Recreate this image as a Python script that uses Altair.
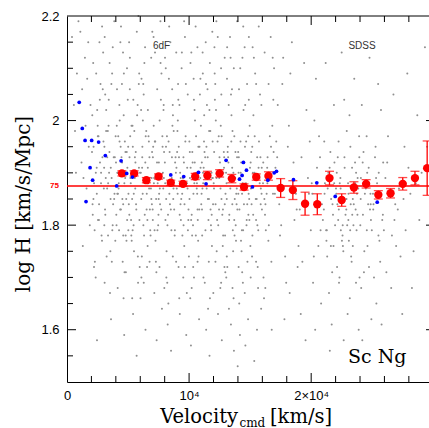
import json
import altair as alt
import pandas as pd

# ---------------- data ----------------
# binned mean log H (red) with error half-widths
red_v = [4500, 5500, 6500, 7500, 8500, 9500, 10500, 11500, 12500, 13500, 14500, 15500, 16500,
         17500, 18500, 19500, 20500, 21500, 22500, 23500, 24500, 25500, 26500, 27500, 28500, 29500]
red_logh = [1.899, 1.899, 1.886, 1.893, 1.881, 1.879, 1.893, 1.895, 1.899, 1.889, 1.873, 1.892, 1.894,
            1.871, 1.867, 1.841, 1.840, 1.890, 1.848, 1.872, 1.879, 1.858, 1.861, 1.879, 1.890, 1.909]
red_err = [0.005, 0.005, 0.005, 0.005, 0.005, 0.005, 0.006, 0.008, 0.007, 0.008, 0.006, 0.006, 0.008,
           0.018, 0.018, 0.022, 0.020, 0.013, 0.012, 0.011, 0.008, 0.008, 0.009, 0.012, 0.013, 0.052]

# individual nearby galaxies (blue)
blue_v = [1000, 1250, 1480, 2020, 2590, 3140, 1890, 2100, 1560, 4070, 4430, 4890, 5360, 8500, 9560,
          10770, 11390, 13030, 14450, 14700, 14340, 14130, 15190, 16450, 16970, 17160, 18550, 20460,
          21970, 25410]
blue_logh = [2.035, 1.985, 1.962, 1.962, 1.959, 1.933, 1.910, 1.886, 1.845, 1.875, 1.923, 1.899, 1.892,
             1.896, 1.893, 1.901, 1.879, 1.924, 1.920, 1.905, 1.895, 1.888, 1.873, 1.886, 1.900, 1.903,
             1.887, 1.881, 1.855, 1.844]

# grey background galaxies (velocity km/s, log H), estimated by eye, bin by bin
cloud_points = [
    (410, 2.16), (655, 1.98), (812, 2.09), (733, 1.90), (938, 2.19), (561, 2.03),
    (1093, 2.17), (1241, 2.06), (1188, 1.92), (1467, 2.12), (1519, 1.99), (1602, 1.87), (1738, 2.15),
    (1781, 1.95), (1866, 1.80), (1923, 2.03), (1349, 1.89), (1297, 1.76), (1655, 2.08),
    (2047, 1.94), (2391, 2.09), (2166, 1.85), (2512, 1.99), (2284, 1.73), (2961, 2.13), (2433, 1.91),
    (2107, 1.82), (2688, 2.04), (2579, 1.97), (2830, 1.78), (2219, 1.88), (2745, 2.07), (2903, 1.93),
    (2348, 1.70), (2627, 1.84), (2071, 2.01), (2456, 1.58), (2791, 1.90), (2874, 2.18), (2539, 1.81),
    (2985, 1.96),
    (3018, 1.87), (3345, 1.98), (3712, 1.79), (3129, 2.05), (3586, 1.91), (3247, 1.74), (3863, 1.85),
    (3491, 2.11), (3064, 1.95), (3778, 1.84), (3402, 1.99), (3955, 1.77), (3173, 1.89), (3633, 2.07),
    (3296, 1.93), (3524, 1.67), (3890, 1.86), (3211, 2.02), (3447, 1.90), (3057, 1.80), (3745, 2.14),
    (3368, 1.88), (3981, 1.97), (3606, 1.62), (3139, 1.82), (3825, 1.93), (3553, 1.75),
    (4012, 1.92), (4533, 1.85), (4288, 2.03), (4871, 1.77), (4145, 1.90), (4659, 2.09), (4394, 1.95),
    (4927, 1.81), (4076, 1.99), (4712, 1.71), (4241, 1.88), (4588, 2.13), (4463, 1.93), (4805, 1.78),
    (4119, 1.86), (4977, 2.04), (4352, 1.83), (4631, 1.66), (4198, 1.97), (4766, 1.89), (4421, 2.18),
    (4037, 1.82), (4894, 1.94), (4560, 1.73), (4317, 2.00), (4684, 1.59), (4172, 1.86), (4945, 1.91),
    (4499, 2.07), (4265, 1.79), (4738, 1.96), (4601, 1.84),
    (5034, 1.86), (5512, 1.98), (5267, 1.78), (5891, 1.91), (5143, 2.06), (5678, 1.83), (5389, 1.95),
    (5956, 1.72), (5221, 1.88), (5745, 2.01), (5453, 1.80), (5087, 2.15), (5604, 1.92), (5332, 1.85),
    (5819, 1.69), (5176, 1.97), (5547, 1.89), (5913, 2.09), (5298, 1.77), (5631, 1.94), (5062, 1.84),
    (5784, 2.03), (5411, 1.63), (5972, 1.90), (5245, 1.81), (5703, 1.55), (5119, 1.93), (5486, 1.75),
    (5852, 2.20), (5367, 1.99), (5589, 1.87), (5023, 1.79),
    (6047, 1.90), (6581, 1.81), (6213, 2.00), (6874, 1.87), (6129, 1.74), (6706, 1.96), (6338, 2.11),
    (6952, 1.84), (6412, 1.92), (6093, 1.70), (6645, 1.88), (6279, 2.05), (6817, 1.79), (6174, 1.95),
    (6533, 1.86), (6988, 2.17), (6366, 1.82), (6752, 1.93), (6021, 1.66), (6489, 1.98), (6907, 1.85),
    (6245, 2.07), (6604, 1.76), (6151, 1.91), (6788, 1.83), (6431, 1.60), (6069, 2.02), (6929, 1.89),
    (6312, 1.78), (6677, 1.97), (6556, 1.72), (6198, 1.86),
    (7058, 1.95), (7623, 1.84), (7281, 1.73), (7904, 2.02), (7136, 1.89), (7467, 1.80), (7812, 1.97),
    (7209, 2.13), (7545, 1.86), (7973, 1.68), (7374, 1.92), (7016, 1.83), (7689, 2.04), (7248, 1.77),
    (7851, 1.90), (7102, 1.99), (7512, 1.85), (7736, 2.09), (7319, 1.71), (7948, 1.94), (7427, 1.88),
    (7171, 1.79), (7588, 2.00), (7883, 1.87), (7343, 1.58), (7654, 2.19), (7034, 1.93), (7776, 1.64),
    (7491, 1.82), (7228, 1.96),
    (8041, 1.88), (8613, 2.06), (8274, 1.82), (8892, 1.93), (8157, 1.75), (8738, 1.98), (8386, 1.86),
    (8029, 2.12), (8551, 1.79), (8964, 1.91), (8212, 1.69), (8677, 2.01), (8433, 1.84), (8108, 1.95),
    (8819, 1.78), (8345, 2.08), (8582, 1.89), (8937, 1.73), (8186, 1.97), (8701, 1.85), (8469, 2.15),
    (8063, 1.81), (8854, 1.92), (8302, 1.65), (8635, 1.99), (8521, 1.56), (8991, 1.87), (8247, 1.61),
    (8779, 1.83), (8404, 1.94),
    (9022, 1.94), (9546, 1.80), (9211, 2.03), (9873, 1.87), (9138, 1.72), (9692, 1.96), (9387, 2.10),
    (9951, 1.83), (9264, 1.90), (9605, 1.76), (9078, 2.00), (9434, 1.86), (9812, 1.67), (9171, 1.93),
    (9738, 2.07), (9329, 1.81), (9489, 1.89), (9985, 1.74), (9047, 1.98), (9661, 2.16), (9295, 1.84),
    (9577, 1.92), (9903, 1.79), (9116, 2.04), (9413, 1.88), (9766, 1.59), (9242, 1.63), (9523, 1.70),
    (9845, 1.91), (9358, 1.85),
    (10036, 1.85), (10571, 1.97), (10248, 1.78), (10889, 2.05), (10127, 1.91), (10693, 1.83),
    (10402, 1.70), (10964, 1.99), (10183, 2.13), (10627, 1.87), (10318, 1.80), (10059, 1.94),
    (10776, 1.74), (10447, 2.02), (10912, 1.89), (10215, 1.82), (10534, 2.18), (10851, 1.95),
    (10094, 1.66), (10663, 1.86), (10371, 2.08), (10742, 1.77), (10289, 1.92), (10998, 1.84),
    (10486, 2.00), (10152, 1.57), (10819, 1.62), (10599, 1.90), (10337, 1.72), (10023, 1.96),
    (10712, 1.81), (10428, 1.88),
    (11043, 1.92), (11586, 1.81), (11237, 2.01), (11871, 1.76), (11154, 1.88), (11702, 2.11),
    (11419, 1.95), (11963, 1.84), (11285, 1.69), (11641, 1.98), (11092, 1.87), (11508, 2.06),
    (11817, 1.79), (11193, 1.91), (11758, 1.83), (11362, 2.15), (11614, 1.73), (11927, 1.96),
    (11021, 1.86), (11463, 2.03), (11789, 1.80), (11316, 1.93), (11552, 1.64), (11888, 1.89),
    (11125, 2.09), (11674, 1.55), (11398, 1.60), (11985, 1.67), (11261, 1.94), (11537, 1.85),
    (11843, 1.90), (11071, 1.78),
    (12038, 1.87), (12594, 1.99), (12261, 1.75), (12877, 1.93), (12142, 2.07), (12719, 1.82),
    (12403, 1.90), (12965, 1.71), (12206, 2.02), (12652, 1.85), (12334, 1.96), (12077, 2.14),
    (12789, 1.78), (12471, 1.89), (12921, 1.84), (12188, 2.00), (12556, 1.68), (12843, 1.94),
    (12295, 1.81), (12618, 2.10), (12014, 1.88), (12758, 1.76), (12427, 1.97), (12983, 1.86),
    (12113, 2.04), (12682, 1.58), (12369, 1.63), (12531, 1.92), (12896, 1.72), (12233, 2.19),
    (12807, 1.90), (12455, 1.83),
    (13027, 1.90), (13583, 1.79), (13246, 2.03), (13862, 1.86), (13131, 1.72), (13704, 1.97),
    (13397, 2.12), (13955, 1.83), (13219, 1.92), (13645, 1.66), (13068, 1.88), (13512, 2.06),
    (13816, 1.80), (13174, 1.95), (13738, 1.85), (13351, 2.16), (13609, 1.75), (13927, 1.93),
    (13294, 1.82), (13471, 2.01), (13781, 1.89), (13045, 1.70), (13556, 1.98), (13889, 1.84),
    (13103, 2.08), (13672, 1.56), (13428, 1.61), (13979, 1.53), (13262, 1.64), (13529, 1.91),
    (13843, 1.77), (13156, 1.94), (13377, 1.87), (13701, 1.81),
    (14033, 1.86), (14577, 1.95), (14252, 1.77), (14894, 2.04), (14138, 1.89), (14719, 1.81),
    (14406, 1.69), (14962, 1.99), (14191, 2.10), (14638, 1.87), (14322, 1.79), (14074, 1.93),
    (14781, 1.73), (14459, 2.02), (14923, 1.85), (14227, 1.90), (14548, 2.14), (14857, 1.82),
    (14106, 1.65), (14673, 1.96), (14381, 1.88), (14746, 2.07), (14297, 1.75), (14989, 1.91),
    (14494, 1.84), (14163, 1.59), (14829, 1.62), (14612, 1.57), (14347, 1.71), (14019, 1.94),
    (14702, 1.80), (14435, 2.18), (14876, 1.86), (14265, 1.92),
    (15042, 1.92), (15593, 1.80), (15268, 2.01), (15876, 1.87), (15157, 1.74), (15724, 1.96),
    (15411, 2.09), (15967, 1.83), (15225, 1.90), (15651, 1.68), (15089, 1.94), (15537, 1.85),
    (15809, 2.05), (15186, 1.78), (15762, 1.89), (15373, 1.97), (15618, 1.72), (15934, 1.86),
    (15307, 2.12), (15486, 1.81), (15843, 1.93), (15021, 1.76), (15562, 1.60), (15902, 1.64),
    (15339, 1.54), (15689, 1.91), (15118, 1.84),
    (16052, 1.88), (16613, 1.97), (16284, 1.79), (16897, 2.04), (16166, 1.85), (16741, 1.73),
    (16429, 1.93), (16958, 2.10), (16217, 1.82), (16572, 1.90), (16095, 1.70), (16816, 1.99),
    (16351, 1.86), (16684, 2.16), (16493, 1.77), (16925, 1.94), (16138, 1.66), (16768, 1.60),
    (16396, 1.91),
    (17071, 1.91), (17542, 1.80), (17263, 2.03), (17868, 1.74), (17139, 1.96), (17705, 2.12),
    (17386, 1.84), (17951, 1.69), (17214, 1.93), (17637, 2.07), (17448, 1.78), (17809, 1.62),
    (17028, 1.86),
    (18087, 1.95), (18631, 1.81), (18295, 2.09), (18892, 1.72), (18174, 1.99), (18746, 1.86),
    (18418, 2.15), (18963, 1.76), (18239, 1.67), (18553, 1.92), (18814, 1.83),
    (19064, 1.83), (19612, 2.02), (19277, 1.73), (19885, 1.96), (19148, 1.63), (19734, 1.89),
    (19421, 2.11), (19968, 1.79), (19206, 1.93), (19539, 1.58), (19817, 1.86),
    (20046, 1.88), (20587, 1.76), (20263, 2.00), (20879, 1.84), (20152, 1.69), (20724, 1.93),
    (20391, 2.08), (20956, 1.81), (20218, 1.74), (20643, 1.97), (20094, 1.86), (20812, 1.65),
    (20475, 1.91), (20327, 1.60), (20768, 1.79),
    (21038, 1.83), (21574, 1.94), (21249, 1.77), (21863, 2.03), (21126, 1.88), (21718, 1.71),
    (21403, 1.90), (21957, 1.80), (21187, 2.11), (21632, 1.85), (21311, 1.74), (21069, 1.96),
    (21786, 1.82), (21458, 1.67), (21905, 1.92), (21224, 1.79), (21681, 1.61), (21527, 1.56),
    (21352, 1.87), (21829, 1.76),
    (22031, 1.87), (22568, 1.78), (22245, 1.96), (22876, 1.83), (22119, 1.72), (22703, 2.04),
    (22389, 1.89), (22951, 1.80), (22176, 1.93), (22634, 1.75), (22062, 1.86), (22497, 2.13),
    (22812, 1.82), (22281, 1.69), (22741, 1.91), (22428, 1.79), (22914, 1.98), (22147, 1.84),
    (22596, 1.76), (22338, 1.88), (22985, 1.63), (22662, 1.58), (22213, 1.81), (22459, 1.85),
    (23044, 1.81), (23593, 1.92), (23272, 1.74), (23858, 1.87), (23137, 2.01), (23716, 1.79),
    (23409, 1.85), (23961, 1.70), (23208, 1.95), (23641, 1.83), (23086, 1.77), (23527, 2.08),
    (23804, 1.89), (23315, 1.73), (23752, 1.86), (23461, 1.80), (23926, 1.97), (23163, 1.66),
    (23678, 1.90), (23366, 1.82), (23889, 1.60), (23562, 1.55), (23021, 1.88), (23238, 1.84),
    (24053, 1.85), (24612, 1.76), (24287, 1.94), (24893, 1.81), (24148, 2.03), (24735, 1.72),
    (24413, 1.88), (24966, 1.79), (24219, 1.92), (24664, 1.84), (24097, 1.68), (24541, 1.97),
    (24818, 1.83), (24352, 1.75), (24779, 2.12), (24476, 1.87), (24931, 1.62), (24186, 1.58),
    (24587, 1.90), (24321, 1.71), (24024, 1.80), (24852, 1.86),
    (25061, 1.86), (25589, 1.77), (25274, 1.95), (25871, 1.82), (25143, 1.70), (25716, 2.02),
    (25398, 1.88), (25954, 1.79), (25227, 1.93), (25652, 1.73), (25106, 1.84), (25483, 2.07),
    (25819, 1.81), (25341, 1.65), (25767, 1.61), (25532, 1.90),
    (26078, 1.89), (26614, 1.78), (26293, 1.97), (26886, 1.84), (26161, 1.71), (26738, 2.05),
    (26432, 1.86), (26959, 1.76), (26227, 1.92), (26553, 1.68), (26817, 1.81),
    (27093, 1.83), (27641, 1.95), (27318, 1.74), (27872, 2.09), (27189, 1.87), (27736, 1.79),
    (27457, 1.63), (27965, 1.91), (27562, 1.85),
    (28124, 1.86), (28692, 2.01), (28387, 1.75), (29046, 1.90), (28251, 1.68), (29318, 2.14),
    (28855, 1.81), (29497, 1.95), (28563, 1.88),
]

# the denser core of the grey cloud (1.76 < log H < 2.0)
cloud_core = [
    (2093, 1.84), (2177, 1.95), (2262, 1.79), (2358, 1.90), (2441, 1.86), (2523, 1.97), (2617, 1.81),
    (2702, 1.92), (2786, 1.88), (2869, 1.77),
    (3041, 1.91), (3115, 1.83), (3203, 1.98), (3288, 1.87), (3362, 1.78), (3477, 1.94), (3569, 1.85),
    (3653, 1.89), (3741, 1.80), (3917, 1.93),
    (4056, 1.80), (4131, 1.90), (4229, 1.87), (4303, 1.96), (4417, 1.83), (4512, 1.92), (4606, 1.78),
    (4697, 1.88), (4788, 1.94), (4852, 1.85),
    (5011, 1.95), (5106, 1.82), (5192, 1.89), (5283, 1.99), (5376, 1.79), (5469, 1.86), (5561, 1.93),
    (5655, 1.84), (5767, 1.90), (5931, 1.81),
    (6082, 1.85), (6164, 1.93), (6258, 1.80), (6349, 1.89), (6447, 1.97), (6521, 1.83), (6619, 1.91),
    (6724, 1.87), (6845, 1.78), (6968, 1.94),
    (7027, 1.81), (7118, 1.88), (7194, 1.96), (7302, 1.85), (7409, 1.79), (7526, 1.92), (7604, 1.87),
    (7717, 1.83), (7829, 1.95), (7936, 1.89),
    (8016, 1.92), (8123, 1.85), (8229, 1.80), (8318, 1.96), (8417, 1.88), (8503, 1.83), (8596, 1.93),
    (8722, 1.87), (8836, 1.79), (8918, 1.90),
    (9061, 1.86), (9154, 1.95), (9228, 1.82), (9312, 1.89), (9451, 1.78), (9538, 1.93), (9624, 1.84),
    (9717, 1.97), (9828, 1.88), (9937, 1.81),
    (10071, 1.89), (10166, 1.81), (10263, 1.94), (10355, 1.86), (10463, 1.92), (10552, 1.78),
    (10645, 1.88), (10759, 1.95), (10834, 1.83), (10941, 1.91),
    (11058, 1.83), (11137, 1.90), (11221, 1.96), (11339, 1.79), (11442, 1.87), (11523, 1.93),
    (11628, 1.85), (11736, 1.98), (11852, 1.82), (11945, 1.89),
    (12051, 1.94), (12168, 1.84), (12247, 1.89), (12387, 1.80), (12489, 1.93), (12572, 1.87),
    (12667, 1.97), (12773, 1.83), (12861, 1.91), (12947, 1.78),
    (13085, 1.85), (13197, 1.93), (13278, 1.81), (13364, 1.89), (13457, 1.96), (13541, 1.84),
    (13627, 1.90), (13722, 1.78), (13797, 1.94), (13906, 1.87),
    (14052, 1.90), (14124, 1.83), (14211, 1.96), (14338, 1.86), (14426, 1.79), (14523, 1.92),
    (14657, 1.88), (14763, 1.84), (14841, 1.97), (14937, 1.81),
    (15067, 1.87), (15174, 1.95), (15249, 1.82), (15356, 1.90), (15462, 1.85), (15575, 1.93),
    (15667, 1.79), (15781, 1.88), (15862, 1.84), (15951, 1.91),
    (16073, 1.92), (16252, 1.84), (16414, 1.88), (16531, 1.80), (16709, 1.95), (16873, 1.86),
    (21095, 1.86), (21283, 1.79), (21509, 1.91), (21744, 1.84), (21886, 1.88), (21612, 1.76),
    (22094, 1.90), (22263, 1.83), (22411, 1.87), (22583, 1.80), (22725, 1.93), (22894, 1.85),
    (22518, 1.77),
    (23058, 1.86), (23194, 1.79), (23347, 1.91), (23489, 1.84), (23613, 1.88), (23787, 1.82),
    (23943, 1.93), (23412, 1.76),
    (24072, 1.89), (24238, 1.82), (24396, 1.86), (24557, 1.79), (24709, 1.91), (24873, 1.84),
    (25084, 1.83), (25312, 1.89), (25508, 1.78), (25683, 1.86), (25897, 1.92),
]

# upper part (2.0 - 2.2) and lower shoulder (1.66 - 1.74) of the 6dF cloud
cloud_upper = [
    (2144, 2.11), (2473, 2.02), (2658, 2.15), (2927, 2.06), (3088, 2.16), (3419, 2.04), (3695, 2.09),
    (3872, 2.19), (4097, 2.06), (4373, 2.15), (4644, 2.01), (4913, 2.10), (5152, 2.12), (5431, 2.04),
    (5718, 2.17), (5884, 2.07), (6104, 2.08), (6393, 2.14), (6625, 2.02), (6897, 2.12), (7089, 2.16),
    (7387, 2.06), (7662, 2.11), (7918, 2.03), (8089, 2.10), (8368, 2.18), (8661, 2.03), (8947, 2.13),
    (9098, 2.07), (9407, 2.13), (9592, 2.19), (9891, 2.05), (10113, 2.11), (10394, 2.04),
    (10682, 2.14), (10927, 2.08), (11109, 2.13), (11386, 2.07), (11669, 2.02), (11902, 2.17),
    (12095, 2.09), (12349, 2.16), (12641, 2.05), (12918, 2.12), (13117, 2.14), (13432, 2.05),
    (13665, 2.10), (13936, 2.19), (14086, 2.06), (14369, 2.12), (14597, 2.03), (14898, 2.16),
    (15203, 2.14), (15489, 2.07), (15706, 2.18), (15923, 2.03), (16187, 2.13), (16512, 2.07),
    (16849, 2.12),
]
cloud_lower = [
    (2210, 1.72), (3083, 1.69), (3671, 1.73), (4152, 1.68), (4823, 1.71), (5339, 1.66), (5804, 1.74),
    (6287, 1.69), (6764, 1.73), (7152, 1.67), (7578, 1.72), (8136, 1.70), (8668, 1.74), (9192, 1.66),
    (9661, 1.72), (10212, 1.68), (10694, 1.73), (11176, 1.70), (11709, 1.66), (12159, 1.73),
    (12624, 1.69), (13088, 1.74), (13556, 1.68), (14056, 1.72), (14559, 1.67), (15046, 1.70),
    (15487, 1.73), (16241, 1.68), (22318, 1.70), (23671, 1.69),
]

h0_logh = [1.875]          # log10(75)
h0_label = ["75"]

x_tick_values = [0, 10000, 20000]
x_tick_labels = ["0", "10⁴", "2×10⁴"]
y_tick_values = [1.6, 1.8, 2.0, 2.2]
x_minor = [2000, 4000, 6000, 8000, 12000, 14000, 16000, 18000, 22000, 24000, 26000, 28000]
x_major = [10000, 20000]
y_minor = [1.55, 1.65, 1.7, 1.75, 1.85, 1.9, 1.95, 2.05, 2.1, 2.15]
y_major = [1.6, 1.8, 2.0]

# ---------------- layout ----------------
W, H = 362, 366
xs = alt.Scale(domain=[0, 29650], nice=False, zero=False)
ys = alt.Scale(domain=[1.5, 2.2], nice=False, zero=False)

x_label_expr = "{}[indexof({}, datum.value)]".format(
    json.dumps(x_tick_labels, ensure_ascii=False), json.dumps(x_tick_values))

x_axis = alt.Axis(values=x_tick_values, labelExpr=x_label_expr, ticks=False, grid=False,
                  domainColor="black", domainWidth=1, labelFont="Liberation Sans",
                  labelFontSize=13, labelColor="black", labelPadding=7, labelFlush=False,
                  labelOverlap=False, title=None)
y_axis = alt.Axis(values=y_tick_values, labelExpr="format(datum.value, '~g')", ticks=False,
                  grid=False, domainColor="black", domainWidth=1, labelFont="Liberation Sans",
                  labelFontSize=13, labelColor="black", labelPadding=8, labelFlush=False,
                  labelOverlap=False, title=None)

cloud = pd.DataFrame(cloud_points + cloud_core + cloud_upper + cloud_lower, columns=["v", "lh"])
red = pd.DataFrame({"v": red_v, "lh": red_logh, "err": red_err})
red["lo"] = red["lh"] - red["err"]
red["hi"] = red["lh"] + red["err"]
blue = pd.DataFrame({"v": blue_v, "lh": blue_logh})
h0 = pd.DataFrame({"lh": h0_logh, "t": h0_label})


def X(f="v:Q"):
    return alt.X(f, scale=xs, axis=x_axis)


def Y(f="lh:Q"):
    return alt.Y(f, scale=ys, axis=y_axis)


cloud_layer = alt.Chart(cloud).mark_circle(size=4, color="#8f8f8f", opacity=1).encode(x=X(), y=Y())

h0_line = alt.Chart(h0).mark_rule(color="#ff0000", strokeWidth=1.5).encode(y=Y())
h0_text = alt.Chart(h0).mark_text(color="#ff0000", fontSize=8, fontWeight="bold", align="right",
                                  baseline="middle", font="Liberation Sans").encode(
    y=Y(), x=alt.value(-8), text="t:N")

err_rule = alt.Chart(red).mark_rule(color="#ff0000", strokeWidth=1.3).encode(
    x=X(), y=Y("lo:Q"), y2="hi:Q")
cap_lo = alt.Chart(red).mark_tick(color="#ff0000", thickness=1.3, size=9, orient="horizontal").encode(
    x=X(), y=Y("lo:Q"))
cap_hi = alt.Chart(red).mark_tick(color="#ff0000", thickness=1.3, size=9, orient="horizontal").encode(
    x=X(), y=Y("hi:Q"))
red_pts = alt.Chart(red).mark_circle(size=70, color="#ff0000", opacity=1).encode(x=X(), y=Y())
blue_pts = alt.Chart(blue).mark_circle(size=14, color="#0000ff", opacity=1).encode(x=X(), y=Y())

# inward ticks and top frame line
xmin_df = pd.DataFrame({"v": x_minor})
xmaj_df = pd.DataFrame({"v": x_major})
ymin_df = pd.DataFrame({"lh": y_minor})
ymaj_df = pd.DataFrame({"lh": y_major})
tick_style = dict(color="black", strokeWidth=1)
ticks = [
    alt.Chart(xmin_df).mark_rule(**tick_style).encode(x=X(), y=alt.value(H), y2=alt.value(H - 6)),
    alt.Chart(xmaj_df).mark_rule(**tick_style).encode(x=X(), y=alt.value(H), y2=alt.value(H - 9)),
    alt.Chart(xmin_df).mark_rule(**tick_style).encode(x=X(), y=alt.value(0), y2=alt.value(6)),
    alt.Chart(xmaj_df).mark_rule(**tick_style).encode(x=X(), y=alt.value(0), y2=alt.value(9)),
    alt.Chart(ymin_df).mark_rule(**tick_style).encode(y=Y(), x=alt.value(0), x2=alt.value(6)),
    alt.Chart(ymaj_df).mark_rule(**tick_style).encode(y=Y(), x=alt.value(0), x2=alt.value(9)),
    alt.Chart(ymaj_df).mark_rule(**tick_style).encode(y=Y(), x=alt.value(W - 3), x2=alt.value(W)),
    alt.Chart(pd.DataFrame({"a": [0]})).mark_rule(**tick_style).encode(
        x=alt.value(0), x2=alt.value(W), y=alt.value(0)),
]


def label(txt, x, y, size, font, align="left", baseline="alphabetic", color="black", angle=0):
    kw = dict(fontSize=size, font=font, align=align, baseline=baseline, color=color)
    if angle:
        kw["angle"] = angle
    return alt.Chart(pd.DataFrame({"t": [txt]})).mark_text(**kw).encode(
        x=alt.value(x), y=alt.value(y), text="t:N")


texts = [
    label("6dF", 94.5, 29.7, 10, "Liberation Sans", align="center", baseline="middle", color="#333333"),
    label("SDSS", 295, 29.5, 10, "Liberation Sans", align="center", baseline="middle", color="#333333"),
    label("Sc Ng", 281, 347, 19, "DejaVu Serif"),
    label("Velocity", 171, 406.5, 19.5, "DejaVu Serif", align="right"),
    label("cmd", 172.5, 410.5, 12, "DejaVu Serif"),
    label("[km/s]", 203, 406.5, 19.5, "DejaVu Serif"),
    label("log H [km/s/Mpc]", -37.5, 188, 20, "DejaVu Serif", align="center", angle=270),
]

chart = alt.layer(cloud_layer, h0_line, err_rule, cap_lo, cap_hi, red_pts, blue_pts, h0_text,
                  *ticks, *texts).properties(
    width=W, height=H,
    padding={"left": 67, "top": 16, "right": 0, "bottom": 46},
    autosize=alt.AutoSizeParams(type="none"),
    background="white",
).configure_view(strokeOpacity=0)

chart.save("out.html", embed_options={"renderer": "svg", "actions": False})
